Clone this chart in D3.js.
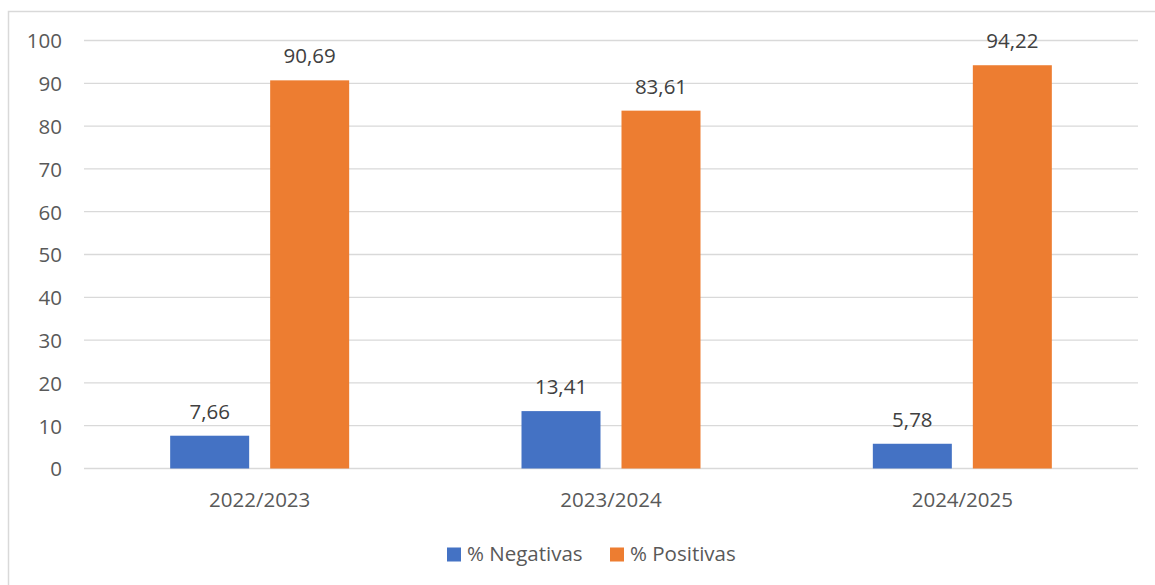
<!DOCTYPE html>
<html>
<head>
<meta charset="utf-8">
<script src="https://cdn.jsdelivr.net/npm/d3@7"></script>
<style>
  html, body { margin: 0; padding: 0; background: #fff; }
  svg { display: block; font-family: "Open Sans", "Noto Sans", sans-serif; }
</style>
</head>
<body>
<svg id="chart" width="1155" height="585"></svg>
<script>
// Academic years and the share of negative / positive results in each
const categories = ["2022/2023", "2023/2024", "2024/2025"];
const negativas = [7.66, 13.41, 5.78];
const positivas = [90.69, 83.61, 94.22];
const seriesNames = ["% Negativas", "% Positivas"];
const seriesColors = ["#4472C4", "#ED7D31"];
const yTicks = [0, 10, 20, 30, 40, 50, 60, 70, 80, 90, 100];

const svg = d3.select("#chart");
const W = 1155, H = 585;
const FS = 20.5;

// Outer chart frame
svg.append("rect")
  .attr("x", 8.5).attr("y", 11.5)
  .attr("width", W + 10).attr("height", H + 10)
  .attr("fill", "#fff").attr("stroke", "#d9d9d9").attr("stroke-width", 1.5);

const plot = { left: 84, right: 1138, top: 40.5, bottom: 468.5 };

const x = d3.scaleBand().domain(categories).range([plot.left, plot.right]);
const y = d3.scaleLinear().domain([0, 100]).range([plot.bottom, plot.top]);

// Horizontal gridlines
svg.append("g").selectAll("line").data(yTicks).join("line")
  .attr("x1", plot.left).attr("x2", plot.right)
  .attr("y1", d => y(d)).attr("y2", d => y(d))
  .attr("stroke", "#d9d9d9").attr("stroke-width", 1.3);

// Y tick labels
const yAxis = d3.axisLeft(y).tickValues(yTicks).tickSize(0).tickPadding(0);
const gy = svg.append("g").attr("transform", `translate(62,0)`).call(yAxis);
gy.select(".domain").remove();
gy.selectAll("text")
  .attr("fill", "#595959").attr("font-size", FS)
  .attr("font-family", "'Open Sans', 'Noto Sans', sans-serif")
  .attr("dy", "0.36em");

// Category labels
const xAxis = d3.axisBottom(x).tickSize(0).tickPadding(0);
const gx = svg.append("g").attr("transform", `translate(0,${plot.bottom})`).call(xAxis);
gx.select(".domain").remove();
gx.selectAll("text")
  .attr("fill", "#595959").attr("font-size", FS)
  .attr("font-family", "'Open Sans', 'Noto Sans', sans-serif")
  .attr("dy", 0).attr("y", 38.5);

// Bars within each category
const barW = 79, gap = 21;
const inner = d3.scaleOrdinal().domain([0, 1])
  .range([-(gap / 2 + barW), gap / 2]);

const rows = categories.map((c, i) => ({ cat: c, vals: [negativas[i], positivas[i]] }));
const fmt = v => v.toFixed(2).replace(".", ",");

const groups = svg.append("g").selectAll("g").data(rows).join("g")
  .attr("transform", d => `translate(${x(d.cat) + x.bandwidth() / 2},0)`);

groups.selectAll("rect")
  .data(d => d.vals.map((v, k) => ({ v, k })))
  .join("rect")
  .attr("x", d => inner(d.k))
  .attr("width", barW)
  .attr("y", d => y(d.v))
  .attr("height", d => y(0) - y(d.v))
  .attr("fill", d => seriesColors[d.k]);

groups.selectAll("text")
  .data(d => d.vals.map((v, k) => ({ v, k })))
  .join("text")
  .attr("x", d => inner(d.k) + barW / 2)
  .attr("y", d => y(d.v) - 17)
  .attr("text-anchor", "middle")
  .attr("fill", "#404040").attr("font-size", FS)
  .text(d => fmt(d.v));

// Legend
const legendX = [447, 610];
const lg = svg.append("g").selectAll("g").data(seriesNames).join("g")
  .attr("transform", (d, i) => `translate(${legendX[i]},547.5)`);
lg.append("rect").attr("width", 14).attr("height", 14)
  .attr("fill", (d, i) => seriesColors[i]);
lg.append("text").attr("x", 20).attr("y", 13)
  .attr("fill", "#595959").attr("font-size", FS)
  .text(d => d);
</script>
</body>
</html>
